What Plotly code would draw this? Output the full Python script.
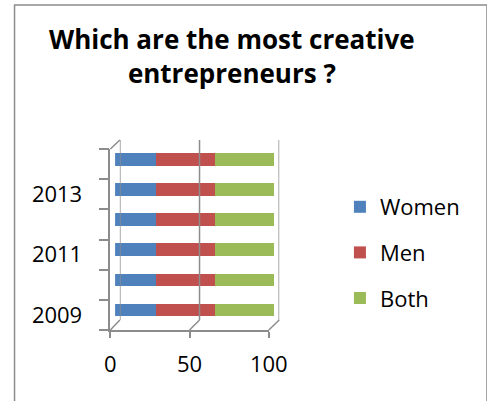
import plotly.graph_objects as go

# ---- data ----
years = ["2009", "2010", "2011", "2012", "2013", "2014"]
women = [26, 26, 26, 26, 26, 26]
men = [37, 37, 37, 37, 37, 37]
both = [37, 37, 37, 37, 37, 37]
x_ticks = [0, 50, 100]
series_names = ["Women", "Men", "Both"]
series_colors = ["#4F81BD", "#C0504D", "#9BBB59"]
title_lines = ["Which are the most creative", "entrepreneurs ?"]

W, H = 487, 401
FONT = "Open Sans"
AXIS_GRAY = "#8C8C8C"


def px(v):
    return v / W


def py(v):
    return 1 - v / H


# pixel geometry of the pseudo-3D box (front plane, mid plane for bars, back wall)
front = dict(x0=110, x1=277, ybot=330, ytop=149)
mid = dict(x0=115, x1=282.5, ybot=325, ytop=144.5)
back = dict(x0=120, x1=288, ybot=320, ytop=140)

fig = go.Figure()
for name, vals, col in zip(series_names, [women, men, both], series_colors):
    fig.add_trace(go.Bar(
        y=years, x=vals, name=name, orientation="h",
        marker=dict(color=col, line=dict(width=0)),
        legendgroup=name, xaxis="x", yaxis="y",
    ))

# invisible traces to create front and back axes
fig.add_trace(go.Scatter(x=[], y=[], xaxis="x2", yaxis="y2", showlegend=False, hoverinfo="skip"))
fig.add_trace(go.Scatter(x=[], y=[], xaxis="x3", yaxis="y3", showlegend=False, hoverinfo="skip"))

n = len(years)
label_idx = list(range(0, n, 2))

fig.update_layout(
    width=W, height=H,
    margin=dict(l=0, r=0, t=0, b=0),
    paper_bgcolor="white", plot_bgcolor="rgba(0,0,0,0)",
    barmode="stack", bargap=0.58,
    font=dict(family=FONT, size=22, color="#000000"),
    showlegend=True,
    legend=dict(
        x=px(352), y=py(186), xanchor="left", yanchor="top",
        traceorder="grouped", tracegroupgap=14,
        font=dict(family=FONT, size=22, color="#000000"),
        bgcolor="rgba(0,0,0,0)",
    ),
    # bars (mid depth)
    xaxis=dict(domain=[px(mid["x0"]), px(mid["x1"])], range=[0, 100],
               showgrid=False, zeroline=False, showticklabels=False, showline=False, anchor="y"),
    yaxis=dict(domain=[py(mid["ybot"]), py(mid["ytop"])], type="category",
               categoryorder="array", categoryarray=years, range=[-0.5, n - 0.5],
               showgrid=False, zeroline=False, showticklabels=False, showline=False, anchor="x"),
    # front axes with labels
    xaxis2=dict(domain=[px(front["x0"]), px(front["x1"])], range=[0, 100], anchor="y2",
                tickvals=x_ticks, ticktext=[str(t) for t in x_ticks],
                ticks="outside", ticklen=6, tickwidth=1.5, tickcolor=AXIS_GRAY,
                showline=True, linecolor=AXIS_GRAY, linewidth=1.5,
                showgrid=False, zeroline=False, ticklabelstandoff=8),
    yaxis2=dict(domain=[py(front["ybot"]), py(front["ytop"])], range=[-0.5, n - 0.5], anchor="x2",
                tickvals=label_idx, ticktext=[years[i] for i in label_idx], ticks="",
                minor=dict(tickvals=[i - 0.5 for i in range(n + 1)], ticks="outside",
                           ticklen=10, tickwidth=1.5, tickcolor=AXIS_GRAY, showgrid=False),
                showline=True, linecolor=AXIS_GRAY, linewidth=1.5,
                showgrid=False, zeroline=False, ticklabelstandoff=22),
    # back wall (lines drawn as shapes on this axis pair)
    xaxis3=dict(domain=[px(back["x0"]), px(back["x1"])], range=[0, 100], anchor="y3",
                showticklabels=False, ticks="", showgrid=False, showline=False, zeroline=False),
    yaxis3=dict(domain=[py(back["ybot"]), py(back["ytop"])], range=[0, 1], anchor="x3",
                showticklabels=False, ticks="", showgrid=False, zeroline=False, showline=False),
)

shapes = []
# frame border
shapes.append(dict(type="rect", xref="paper", yref="paper",
                   x0=px(9), x1=px(W + 20), y0=py(H + 20), y1=py(5),
                   line=dict(color="#8C8C8C", width=1.5), fillcolor="rgba(0,0,0,0)", layer="below"))
# back-wall vertical gridlines
for t in x_ticks:
    shapes.append(dict(type="line", xref="x3", yref="y3", x0=t, x1=t, y0=0, y1=1,
                       line=dict(color=AXIS_GRAY, width=1.5), layer="below"))
# diagonal connectors between front and back planes
for t in x_ticks:
    fx = front["x0"] + (front["x1"] - front["x0"]) * t / 100
    bx = back["x0"] + (back["x1"] - back["x0"]) * t / 100
    shapes.append(dict(type="line", xref="paper", yref="paper",
                       x0=px(fx), y0=py(front["ybot"]), x1=px(bx), y1=py(back["ybot"]),
                       line=dict(color=AXIS_GRAY, width=1.5)))
shapes.append(dict(type="line", xref="paper", yref="paper",
                   x0=px(front["x0"]), y0=py(front["ytop"]), x1=px(back["x0"]), y1=py(back["ytop"]),
                   line=dict(color=AXIS_GRAY, width=1.5)))
fig.update_layout(shapes=shapes)

# two-line bold title
fig.add_annotation(text="<b>" + "<br>".join(title_lines) + "</b>", xref="paper", yref="paper",
                   x=px(238), y=py(56.5), xanchor="center", yanchor="middle", showarrow=False,
                   align="center", font=dict(family=FONT, size=26, color="#000000"))

fig.write_html("out.html", config={"displayModeBar": False},
               post_script="document.body.style.margin='0';")
